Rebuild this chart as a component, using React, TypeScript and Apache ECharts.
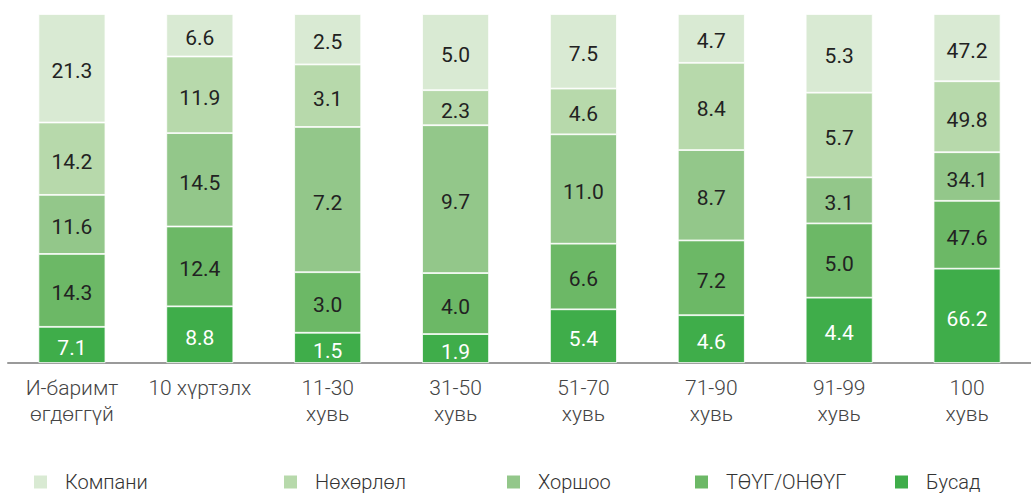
import React, { useEffect, useRef } from "react";
import * as echarts from "echarts";

const categories = [
  "И-баримт\nөгдөггүй",
  "10 хүртэлх",
  "11-30\nхувь",
  "31-50\nхувь",
  "51-70\nхувь",
  "71-90\nхувь",
  "91-99\nхувь",
  "100\nхувь",
];

const seriesNames = ["Компани", "Нөхөрлөл", "Хоршоо", "ТӨҮГ/ОНӨҮГ", "Бусад"];

const kompani = [21.3, 6.6, 2.5, 5.0, 7.5, 4.7, 5.3, 47.2];
const nuhurlul = [14.2, 11.9, 3.1, 2.3, 4.6, 8.4, 5.7, 49.8];
const khorshoo = [11.6, 14.5, 7.2, 9.7, 11.0, 8.7, 3.1, 34.1];
const tuug = [14.3, 12.4, 3.0, 4.0, 6.6, 7.2, 5.0, 47.6];
const busad = [7.1, 8.8, 1.5, 1.9, 5.4, 4.6, 4.4, 66.2];

const colors = ["#d9ead3", "#b7d9ab", "#93c78a", "#6cb866", "#3fad4a"];
const legendLeft = [32, 282, 505, 693, 893];

export default function App() {
  const ref = useRef<HTMLDivElement>(null);
  useEffect(() => {
    if (!ref.current) return;
    const chart = echarts.init(ref.current, null, { renderer: "svg" });
    // stack order bottom -> top
    const stackOrder = [busad, tuug, khorshoo, nuhurlul, kompani];
    const stackNames = ["Бусад", "ТӨҮГ/ОНӨҮГ", "Хоршоо", "Нөхөрлөл", "Компани"];
    const stackColors = [colors[4], colors[3], colors[2], colors[1], colors[0]];
    const totals = categories.map((_, i) =>
      stackOrder.reduce((s, arr) => s + arr[i], 0)
    );
    const series = stackOrder.map((arr, si) => ({
      name: stackNames[si],
      type: "bar",
      stack: "total",
      barWidth: 67,
      data: arr.map((v, i) => ({ value: (v / totals[i]) * 100, raw: v })),
      itemStyle: { color: stackColors[si], borderColor: "#ffffff", borderWidth: 0.8 },
      label: {
        show: true,
        position: "inside",
        offset: [0, 3],
        fontFamily: "Roboto",
        fontSize: 21,
        color: si === 0 ? "#ffffff" : "#222222",
        formatter: (p: any) => p.data.raw.toFixed(1),
      },
    }));
    const legends = seriesNames.map((n, i) => ({
      show: true,
      left: legendLeft[i],
      top: 472,
      padding: 0,
      itemWidth: 15,
      itemHeight: 15,
      icon: "rect",
      data: [n],
      textStyle: {
        fontFamily: "Roboto",
        fontSize: 20,
        lineHeight: 16,
        fontWeight: 300,
        color: "#333333",
        padding: [0, 0, 0, 12],
      },
    }));
    chart.setOption({
      animation: false,
      color: colors,
      legend: legends,
      grid: { left: 8, width: 1032, top: 14, bottom: 132, containLabel: false },
      xAxis: {
        type: "category",
        data: categories,
        axisLine: { lineStyle: { color: "#9a9a9a", width: 2 } },
        axisTick: { show: false },
        axisLabel: {
          margin: 12,
          fontFamily: "Roboto",
          fontSize: 21,
          fontWeight: 300,
          lineHeight: 26,
          color: "#444444",
          interval: 0,
        },
      },
      yAxis: { type: "value", min: 0, max: 100, show: false },
      series,
    });
    return () => chart.dispose();
  }, []);
  return (
    <div
      ref={ref}
      style={{ position: "absolute", left: 0, top: 0, width: 1031, height: 495 }}
    />
  );
}
